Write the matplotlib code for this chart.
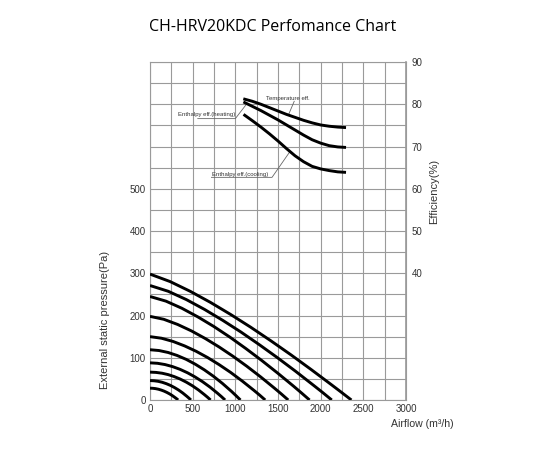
import matplotlib
matplotlib.use("Agg")
import matplotlib.pyplot as plt

# %%
# fan curves: external static pressure (Pa) vs airflow (m3/h), one list per speed step
airflow_curves = [
    [0, 33, 66, 99, 132, 165, 198, 231, 264, 297, 314, 330],
    [0, 48, 96, 144, 192, 240, 288, 336, 384, 432, 456, 480],
    [0, 71, 142, 213, 284, 355, 426, 497, 568, 639, 675, 710],
    [0, 88, 176, 264, 352, 440, 528, 616, 704, 792, 836, 880],
    [0, 106, 212, 318, 424, 530, 636, 742, 848, 954, 1007, 1060],
    [0, 135, 270, 405, 540, 675, 810, 945, 1080, 1215, 1283, 1350],
    [0, 162, 324, 486, 648, 810, 972, 1134, 1296, 1458, 1539, 1620],
    [0, 187, 374, 561, 748, 935, 1122, 1309, 1496, 1683, 1777, 1870],
    [0, 213, 426, 639, 852, 1065, 1278, 1491, 1704, 1917, 2024, 2130],
    [0, 236, 472, 708, 944, 1180, 1416, 1652, 1888, 2124, 2242, 2360],
]
pressure_curves = [
    [28, 27.7, 26.9, 25.5, 23.5, 21.0, 17.9, 14.3, 10.1, 5.3, 2.7, 0],
    [46, 45.5, 44.2, 41.9, 38.6, 34.5, 29.4, 23.5, 16.6, 8.7, 4.5, 0],
    [66, 65.3, 63.4, 60.1, 55.4, 49.5, 42.2, 33.7, 23.8, 12.5, 6.4, 0],
    [88, 86.9, 83.9, 79.1, 72.6, 64.4, 54.6, 43.3, 30.4, 15.9, 8.2, 0],
    [119, 117.1, 112.5, 105.4, 96.2, 84.8, 71.5, 56.4, 39.4, 20.6, 10.5, 0],
    [150, 146.2, 138.6, 128.1, 115.4, 100.5, 83.7, 65.3, 45.0, 23.3, 11.9, 0],
    [198, 191.0, 178.8, 163.5, 145.5, 125.5, 103.6, 80.0, 54.8, 28.1, 14.3, 0],
    [245, 234.0, 217.1, 196.7, 174.0, 149.0, 122.0, 93.6, 63.7, 32.6, 16.4, 0],
    [271, 257.4, 237.7, 214.4, 188.6, 161.0, 131.4, 100.5, 68.3, 34.7, 17.6, 0],
    [298, 280.3, 257.2, 231.1, 202.6, 172.3, 140.2, 106.9, 72.2, 36.5, 18.4, 0],
]

# efficiency curves (%)
eff_airflow = [1110, 1200, 1300, 1400, 1500, 1600, 1700, 1800, 1900, 2000, 2100, 2200, 2280]
temp_eff = [81.2, 80.7, 80.0, 79.2, 78.4, 77.6, 76.9, 76.2, 75.6, 75.1, 74.8, 74.6, 74.5]
heating_eff = [80.4, 79.5, 78.5, 77.4, 76.3, 75.1, 73.9, 72.7, 71.6, 70.8, 70.2, 69.9, 69.8]
cooling_eff = [77.4, 76.1, 74.6, 73.0, 71.3, 69.5, 67.8, 66.4, 65.3, 64.7, 64.3, 64.0, 63.9]

x_ticks = [0, 500, 1000, 1500, 2000, 2500, 3000]
p_ticks = [0, 100, 200, 300, 400, 500]
eff_ticks = [40, 50, 60, 70, 80, 90]

# %%
plt.rcParams['font.family'] = ['Liberation Sans', 'DejaVu Sans']
grid_c = '#9a9a9a'
txt_c = '#333333'

fig = plt.figure(figsize=(5.5, 4.5), dpi=100)
ax = fig.add_axes([0.2727, 0.1111, 0.4655, 0.7511])

for xv in range(0, 3001, 250):
    ax.axvline(xv, color=grid_c, lw=0.8, zorder=1)
for yv in range(0, 801, 50):
    ax.axhline(yv, color=grid_c, lw=0.8, zorder=1)

for q, p in zip(airflow_curves, pressure_curves):
    ax.plot(q, p, color='black', lw=2.1, solid_capstyle='butt',
            solid_joinstyle='round', zorder=3)

ax.set_xlim(0, 3000)
ax.set_ylim(0, 800)
ax.set_xticks(x_ticks)
ax.set_yticks(p_ticks)
ax.tick_params(length=0, labelsize=7, labelcolor=txt_c, pad=3)
for s in ax.spines.values():
    s.set_color(grid_c)
    s.set_linewidth(0.8)

ax2 = ax.twinx()
ax2.set_ylim(10, 90)
ax2.set_yticks(eff_ticks)
ax2.tick_params(length=0, labelsize=7, labelcolor=txt_c, pad=4)
for s in ax2.spines.values():
    s.set_visible(False)
ax2.spines['right'].set_visible(True)
ax2.spines['right'].set_color(grid_c)
ax2.spines['right'].set_linewidth(1.2)

for eff in (temp_eff, heating_eff, cooling_eff):
    ax2.plot(eff_airflow, eff, color='black', lw=2.1,
             solid_joinstyle='round', zorder=3)

# labels with leader lines
lead_c = '#666666'
ax2.text(1620, 80.8, 'Temperature eff.', fontsize=4.3, ha='center', va='bottom', color=txt_c)
ax2.plot([1690, 1625], [80.7, 77.6], color=lead_c, lw=0.6)
ax2.text(665, 76.9, 'Enthalpy eff.(heating)', fontsize=4.3, ha='center', va='bottom', color=txt_c)
ax2.plot([560, 1000, 1130], [76.6, 76.6, 80.0], color=lead_c, lw=0.6)
ax2.text(1060, 62.9, 'Enthalpy eff.(cooling)', fontsize=4.3, ha='center', va='bottom', color=txt_c)
ax2.plot([720, 1430, 1640], [62.7, 62.7, 68.8], color=lead_c, lw=0.6)

fig.text(0.495, 0.94, 'CH-HRV20KDC Perfomance Chart', ha='center', va='center',
         fontsize=11.5, family=['Open Sans', 'DejaVu Sans'], color='black')
fig.text(0.19, 0.29, 'External static pressure(Pa)', rotation=90, ha='center',
         va='center', fontsize=8, color=txt_c)
fig.text(0.789, 0.575, 'Efficiency(%)', rotation=90, ha='center', va='center',
         fontsize=8, color=txt_c)
fig.text(0.711, 0.058, 'Airflow (m\u00b3/h)', ha='left', va='center',
         fontsize=7.6, color=txt_c)

fig.savefig('out.png', dpi=100)
